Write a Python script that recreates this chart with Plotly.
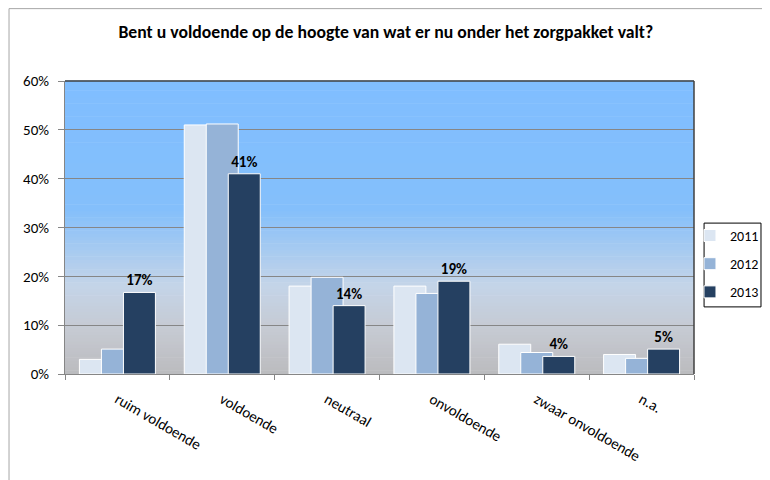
import plotly.graph_objects as go

categories = ["ruim voldoende", "voldoende", "neutraal", "onvoldoende", "zwaar onvoldoende", "n.a."]
years = ["2011", "2012", "2013"]
values_2011 = [0.030, 0.510, 0.180, 0.180, 0.061, 0.040]
values_2012 = [0.051, 0.512, 0.198, 0.165, 0.044, 0.032]
values_2013 = [0.167, 0.410, 0.140, 0.190, 0.036, 0.051]

series = [values_2011, values_2012, values_2013]
colors = ["#DCE6F2", "#95B3D7", "#254061"]
offsets = [-0.3625, -0.1525, 0.0575]
BAR_W = 0.305

FONT = "Carlito, Calibri, Lato, sans-serif"

fig = go.Figure()
for i, (yr, vals) in enumerate(zip(years, series)):
    last = i == len(years) - 1
    fig.add_trace(go.Bar(
        x=categories,
        y=vals,
        name=yr,
        legendgroup=yr,
        marker=dict(color=colors[i], line=dict(color="#FFFFFF", width=1)),
        width=BAR_W,
        offset=offsets[i],
        texttemplate="%{y:.0%}" if last else None,
        textposition="outside" if last else "none",
        textfont=dict(family=FONT, size=15, color="#000000", weight="bold"),
        cliponaxis=False,
    ))

# plot-area gradient (blue at top fading to grey at bottom)
stops = [
    (0.00, (187, 187, 190)),
    (0.15, (198, 202, 210)),
    (0.30, (196, 212, 232)),
    (0.45, (160, 200, 242)),
    (0.56, (132, 191, 251)),
    (1.00, (128, 190, 255)),
]


def _grad(t):
    for (t0, c0), (t1, c1) in zip(stops[:-1], stops[1:]):
        if t0 <= t <= t1:
            f = (t - t0) / (t1 - t0)
            return "rgb(%d,%d,%d)" % tuple(round(a + (b - a) * f) for a, b in zip(c0, c1))
    return "rgb(%d,%d,%d)" % stops[-1][1]


shapes = []
n = 90
for k in range(n):
    y0, y1 = k / n, (k + 1) / n
    shapes.append(dict(type="rect", xref="paper", yref="paper", x0=0, x1=1, y0=y0, y1=y1 + 0.002,
                       fillcolor=_grad((y0 + y1) / 2), line=dict(width=0), layer="below"))
# top and right border of plot area
shapes.append(dict(type="line", xref="paper", yref="paper", x0=0, x1=1, y0=1, y1=1,
                   line=dict(color="#404040", width=1.5)))
shapes.append(dict(type="line", xref="paper", yref="paper", x0=1, x1=1, y0=0, y1=1,
                   line=dict(color="#404040", width=1.5)))
# outer chart border
shapes.append(dict(type="rect", xref="paper", yref="paper", x0=-0.0890, x1=1.3, y0=-0.6, y1=1.247,
                   line=dict(color="#A6A6A6", width=1), fillcolor="rgba(0,0,0,0)"))
# legend frame
shapes.append(dict(type="rect", xref="paper", yref="paper", x0=1.016, x1=1.1065, y0=0.229, y1=0.515,
                   line=dict(color="#000000", width=1), fillcolor="#FFFFFF", layer="below"))

fig.update_layout(
    barmode="overlay",
    width=780,
    height=480,
    margin=dict(l=57, r=94, t=73, b=114),
    paper_bgcolor="#FFFFFF",
    plot_bgcolor="rgba(0,0,0,0)",
    font=dict(family=FONT, size=14, color="#000000"),
    title=dict(
        text="<b>Bent u voldoende op de hoogte van wat er nu onder het zorgpakket valt?</b>",
        x=0.51, xref="paper", xanchor="center",
        y=0.95, yanchor="middle",
        font=dict(family=FONT, size=17.7, color="#000000"),
    ),
    shapes=shapes,
    showlegend=True,
    legend=dict(
        x=0.9936, xanchor="left", y=0.526, yanchor="top",
        borderwidth=0, bgcolor="rgba(0,0,0,0)",
        traceorder="grouped", tracegroupgap=7,
        font=dict(family=FONT, size=14),
    ),
    xaxis=dict(
        type="category",
        tickangle=30,
        tickson="boundaries",
        ticks="outside", ticklen=5, tickcolor="#868686",
        showline=True, linecolor="#868686", linewidth=1,
        showgrid=False,
        ticklabelstandoff=10,
        tickfont=dict(family=FONT, size=15),
    ),
    yaxis=dict(
        range=[0, 0.6],
        dtick=0.1,
        tickformat=".0%",
        ticks="outside", ticklen=6, tickcolor="#868686",
        showline=True, linecolor="#868686", linewidth=1,
        showgrid=True, gridcolor="#868686", gridwidth=1,
        zeroline=False,
        ticklabelstandoff=6,
        tickfont=dict(family=FONT, size=15),
    ),
)

fig.write_html("out.html")
